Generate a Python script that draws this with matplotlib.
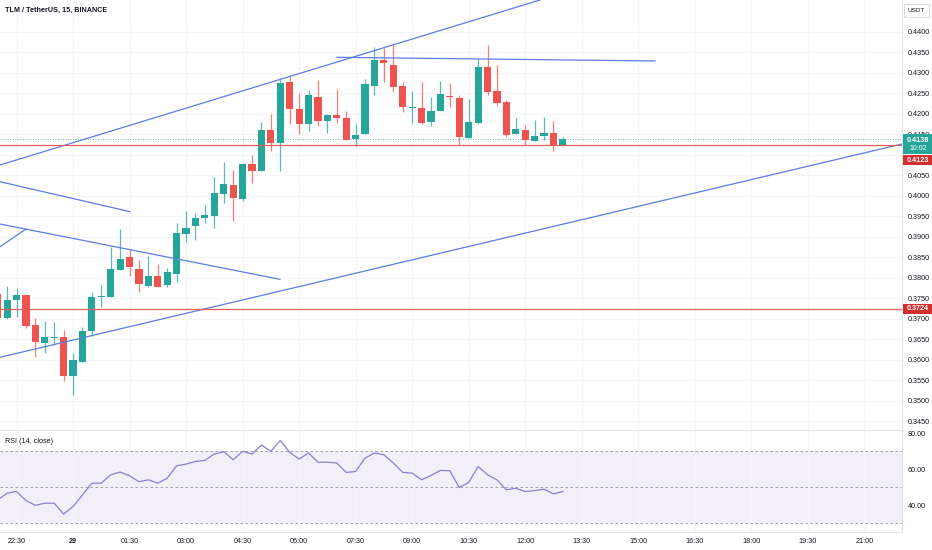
import matplotlib

matplotlib.use("Agg")
import matplotlib.pyplot as plt
from matplotlib.patches import Rectangle

# 15-minute bars, index 0 = 22:30
bar_idx = list(range(-2, 59))
opens = [0.3760, 0.3702, 0.3746, 0.3757, 0.3684, 0.3641, 0.3653, 0.3654, 0.3560, 0.3595,
         0.3670, 0.3754, 0.3754, 0.3819, 0.3850, 0.3821, 0.3780, 0.3803, 0.3782, 0.3810,
         0.3906, 0.3926, 0.3945, 0.3951, 0.4004, 0.4026, 0.3992, 0.4078, 0.4061, 0.4161,
         0.4128, 0.4279, 0.4212, 0.4175, 0.4242, 0.4183, 0.4197, 0.4189, 0.4139, 0.4150,
         0.4269, 0.4332, 0.4319, 0.4269, 0.4215, 0.4215, 0.4179, 0.4208, 0.4244, 0.4238,
         0.4142, 0.4177, 0.4314, 0.4256, 0.4230, 0.4151, 0.4161, 0.4135, 0.4146, 0.4153,
         0.4122]
highs = [0.3765, 0.3780, 0.3775, 0.3757, 0.3702, 0.3694, 0.3693, 0.3672, 0.3615, 0.3680,
         0.3766, 0.3782, 0.3876, 0.3919, 0.3870, 0.3843, 0.3853, 0.3834, 0.3823, 0.3934,
         0.3964, 0.3959, 0.3978, 0.4047, 0.4083, 0.4063, 0.4079, 0.4100, 0.4181, 0.4199,
         0.4287, 0.4292, 0.4250, 0.4258, 0.4283, 0.4200, 0.4260, 0.4208, 0.4175, 0.4285,
         0.4364, 0.4360, 0.4372, 0.4279, 0.4257, 0.4279, 0.4241, 0.4280, 0.4276, 0.4246,
         0.4236, 0.4333, 0.4368, 0.4319, 0.4234, 0.4191, 0.4173, 0.4185, 0.4193, 0.4183,
         0.4144]
lows = [0.3698, 0.3699, 0.3704, 0.3677, 0.3607, 0.3617, 0.3636, 0.3548, 0.3514, 0.3594,
        0.3657, 0.3729, 0.3753, 0.3819, 0.3805, 0.3766, 0.3778, 0.3777, 0.3777, 0.3790,
        0.3886, 0.3892, 0.3933, 0.3921, 0.3983, 0.3939, 0.3988, 0.4032, 0.4061, 0.4109,
        0.4061, 0.4175, 0.4150, 0.4159, 0.4171, 0.4153, 0.4177, 0.4136, 0.4122, 0.4150,
        0.4246, 0.4279, 0.4254, 0.4205, 0.4177, 0.4175, 0.4171, 0.4207, 0.4218, 0.4124,
        0.4141, 0.4175, 0.4246, 0.4222, 0.4144, 0.4150, 0.4124, 0.4134, 0.4136, 0.4110,
        0.4121]
closes = [0.3702, 0.3746, 0.3758, 0.3682, 0.3644, 0.3656, 0.3654, 0.3559, 0.3599, 0.3671,
          0.3754, 0.3756, 0.3821, 0.3846, 0.3825, 0.3784, 0.3803, 0.3778, 0.3813, 0.3908,
          0.3922, 0.3945, 0.3953, 0.4006, 0.4029, 0.3994, 0.4077, 0.4061, 0.4161, 0.4130,
          0.4276, 0.4211, 0.4175, 0.4246, 0.4183, 0.4197, 0.4191, 0.4136, 0.4149, 0.4273,
          0.4332, 0.4324, 0.4266, 0.4218, 0.4216, 0.4177, 0.4208, 0.4249, 0.4241, 0.4144,
          0.4179, 0.4315, 0.4254, 0.4226, 0.4149, 0.4162, 0.4136, 0.4146, 0.4153, 0.4122,
          0.4138]
rsi = [43.0, 46.7, 47.7, 42.7, 40.0, 41.2, 41.2, 35.2, 39.3, 45.8,
       52.3, 52.3, 57.0, 58.5, 56.4, 53.1, 54.2, 52.3, 55.1, 62.0,
       62.9, 64.4, 65.0, 68.5, 69.8, 65.3, 70.0, 68.5, 73.5, 70.0,
       76.1, 69.4, 65.7, 69.1, 63.9, 64.0, 63.5, 58.3, 58.8, 66.3,
       69.1, 68.1, 63.5, 58.3, 57.9, 54.2, 56.6, 59.4, 59.2, 49.9,
       52.7, 61.6, 57.0, 54.2, 48.6, 49.5, 47.7, 48.2, 49.0, 46.4,
       47.7]

# drawn trend lines: (bar0, price0, bar1, price1)
trend_lines = [
    (-1.75, 0.40752, 55.57, 0.44781),
    (-1.75, 0.36056, 94.0, 0.41265),
    (-1.75, 0.40344, 12.05, 0.39612),
    (-1.75, 0.39311, 27.97, 0.37961),
    (-1.75, 0.38757, 1.01, 0.39189),
    (34.02, 0.43382, 67.78, 0.43292),
]
level_lines = [0.4123, 0.3724]
last_price = 0.4138

time_ticks = [0, 6, 12, 18, 24, 30, 36, 42, 48, 54, 60, 66, 72, 78, 84, 90]
time_labels = ["22:30", "29", "01:30", "03:00", "04:30", "06:00", "07:30", "09:00",
               "10:30", "12:00", "13:30", "15:00", "16:30", "18:00", "19:30", "21:00"]
price_ticks = [0.3450, 0.3500, 0.3550, 0.3600, 0.3650, 0.3700, 0.3750, 0.3800, 0.3850,
               0.3900, 0.3950, 0.4000, 0.4050, 0.4100, 0.4150, 0.4200, 0.4250, 0.4300,
               0.4350, 0.4400]
hidden_ticks = [0.4100]  # sits under the level tag
rsi_ticks = [40, 60, 80]

UP = "#26a69a"
DOWN = "#ef5350"
GRID = "#f3f5fa"
BORDER = "#e0e3eb"
TEXT = "#131722"
W, H = 932, 550

fig = plt.figure(figsize=(W / 100, H / 100), dpi=100)
fig.patch.set_facecolor("white")
plt.rcParams["font.family"] = ["Liberation Sans", "DejaVu Sans"]


def fbox(x0, y0, x1, y1):
    # pixel box (top-left origin) -> figure fraction rect
    return [x0 / W, 1 - y1 / H, (x1 - x0) / W, (y1 - y0) / H]


ax = fig.add_axes(fbox(0, 0, 902, 428))
rax = fig.add_axes(fbox(0, 430, 902, 532), sharex=ax)

# candles
colors = [UP if c >= o else DOWN for o, c in zip(opens, closes)]
ax.vlines(bar_idx, lows, highs, colors=colors, lw=0.9, alpha=0.75, zorder=3)
bottoms = [min(o, c) for o, c in zip(opens, closes)]
heights = [max(abs(c - o), 0.00012) for o, c in zip(opens, closes)]
ax.bar(bar_idx, heights, bottom=bottoms, width=0.76, color=colors, zorder=4)

for x0, p0, x1, p1 in trend_lines:
    ax.plot([x0, x1], [p0, p1], color="#5b7ee5", lw=0.9, zorder=5)
for lv in level_lines:
    ax.axhline(lv, color="#e0605a", lw=0.9, zorder=5)
ax.axhline(last_price, color=UP, lw=0.6, ls=(0, (1, 2)), zorder=2)

ax.set_xlim(-1.752, 94.0)
ax.set_ylim(0.34330, 0.44781)
ax.set_yticks(price_ticks)
ax.set_yticklabels(["" if p in hidden_ticks else f"{p:.4f}" for p in price_ticks])
ax.yaxis.tick_right()
ax.tick_params(axis="y", length=0, pad=4.3, labelsize=5.2, labelcolor=TEXT)
ax.tick_params(axis="x", length=0, labelbottom=False)
ax.set_xticks(time_ticks)
ax.grid(True, color=GRID, lw=0.8, zorder=0)
for s in ["top", "left", "bottom"]:
    ax.spines[s].set_visible(False)
ax.spines["right"].set_color(BORDER)
ax.spines["right"].set_linewidth(0.8)

# RSI pane
rax.axhspan(30, 70, color="#7e57c2", alpha=0.09, lw=0, zorder=1)
for lv in [70, 50, 30]:
    rax.axhline(lv, color="#9598a1", lw=0.6, ls=(0, (3, 3)), zorder=2)
rax.plot(bar_idx, rsi, color="#8a7fcf", lw=0.9, zorder=3)
rax.set_ylim(25.2, 81.85)
rax.set_yticks(rsi_ticks)
rax.set_yticklabels([f"{v:.2f}" for v in rsi_ticks])
rax.yaxis.tick_right()
rax.tick_params(axis="y", length=0, pad=4.3, labelsize=5.2, labelcolor=TEXT)
rax.set_xticks(time_ticks)
rax.set_xticklabels(time_labels)
rax.tick_params(axis="x", length=0, pad=4.5, labelsize=5.2, labelcolor=TEXT)
for lab in rax.get_xticklabels():
    if lab.get_text() == "29":
        lab.set_fontweight("bold")
rax.grid(True, axis="x", color=GRID, lw=0.8, zorder=0)
rax.spines["left"].set_visible(False)
for s in ["top", "bottom", "right"]:
    rax.spines[s].set_color(BORDER)
    rax.spines[s].set_linewidth(0.8)
rax.text(0.006, 0.89, "RSI (14, close)", transform=rax.transAxes, fontsize=5.2,
         color=TEXT, va="center", ha="left")

# title and currency tag
fig.text(5 / W, 1 - 10 / H, "TLM / TetherUS, 15, BINANCE", fontsize=5.2,
         fontweight="bold", color=TEXT, va="center", ha="left")
fig.add_artist(Rectangle((904 / W, 1 - 17 / H), 25 / W, 13 / H,
                         transform=fig.transFigure, fc="white", ec="#d1d4dc", lw=0.6))
fig.text(916.5 / W, 1 - 10.5 / H, "USDT", fontsize=4.6, color=TEXT, ha="center", va="center")


# price tags on the axis
def tag(y0, y1, color):
    r = fbox(903, y0, 932, y1)
    fig.add_artist(Rectangle((r[0], r[1]), r[2], r[3], transform=fig.transFigure,
                             fc=color, ec="none", zorder=10))


tag(134, 154, UP)
fig.text(918 / W, 1 - 140 / H, f"{last_price:.4f}", fontsize=5.2, color="white",
         ha="center", va="center", fontweight="bold", zorder=11)
fig.text(918 / W, 1 - 148.5 / H, "10:02", fontsize=5.0, color="white",
         ha="center", va="center", zorder=11)
tag(154.5, 165, "#d32f2f")
fig.text(918 / W, 1 - 160 / H, f"{level_lines[0]:.4f}", fontsize=5.2, color="white",
         ha="center", va="center", fontweight="bold", zorder=11)
tag(303.5, 313.5, "#d32f2f")
fig.text(918 / W, 1 - 308.7 / H, f"{level_lines[1]:.4f}", fontsize=5.2, color="white",
         ha="center", va="center", fontweight="bold", zorder=11)

fig.savefig("out.png", dpi=100)
